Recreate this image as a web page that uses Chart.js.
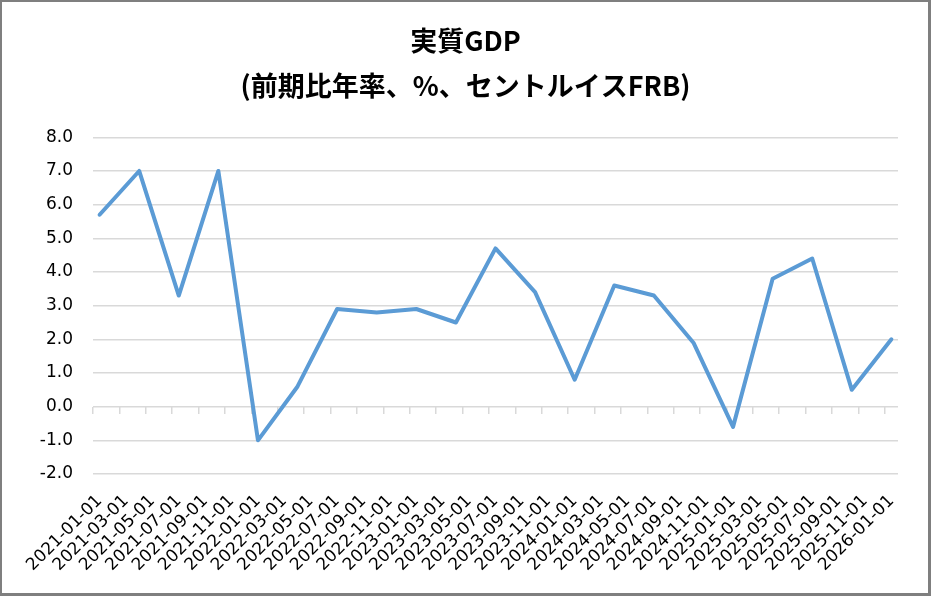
<!DOCTYPE html>
<html lang="ja">
<head>
<meta charset="utf-8">
<title>実質GDP</title>
<script src="https://cdn.jsdelivr.net/npm/chart.js@4.4.1/dist/chart.umd.min.js"></script>
<style>
    html, body { margin: 0; padding: 0; background: #fff; }
    #wrap {
        position: absolute; left: 0; top: 0;
        width: 931px; height: 596px;
        box-sizing: border-box;
        border-style: solid;
        border-color: #7f7f7f;
        border-width: 2px 3px 3px 2px;
        background: #fff;
    }
</style>
</head>
<body>
<div id="wrap"><canvas id="gdpChart"></canvas></div>
<script>
// quarterly real GDP, annualized q/q % (St. Louis Fed)
const dates = [
    '2021-01-01', '2021-04-01', '2021-07-01', '2021-10-01',
    '2022-01-01', '2022-04-01', '2022-07-01', '2022-10-01',
    '2023-01-01', '2023-04-01', '2023-07-01', '2023-10-01',
    '2024-01-01', '2024-04-01', '2024-07-01', '2024-10-01',
    '2025-01-01', '2025-04-01', '2025-07-01', '2025-10-01',
    '2026-01-01'
];
const gdpGrowth = [
    5.7, 7.0, 3.3, 7.0,
    -1.0, 0.6, 2.9, 2.8,
    2.9, 2.5, 4.7, 3.4,
    0.8, 3.6, 3.3, 1.9,
    -0.6, 3.8, 4.4, 0.5,
    2.0
];
const tickLabels = [
    '2021-01-01', '2021-03-01', '2021-05-01', '2021-07-01', '2021-09-01', '2021-11-01',
    '2022-01-01', '2022-03-01', '2022-05-01', '2022-07-01', '2022-09-01', '2022-11-01',
    '2023-01-01', '2023-03-01', '2023-05-01', '2023-07-01', '2023-09-01', '2023-11-01',
    '2024-01-01', '2024-03-01', '2024-05-01', '2024-07-01', '2024-09-01', '2024-11-01',
    '2025-01-01', '2025-03-01', '2025-05-01', '2025-07-01', '2025-09-01', '2025-11-01',
    '2026-01-01'
];
const yMin = -2;
const yMax = 8;
const yStep = 1;

const startYear = 2021;

function monthIndex(d) {
    const parts = d.split('-');
    return (parseInt(parts[0], 10) - startYear) * 12 + (parseInt(parts[1], 10) - 1);
}

const xMin = monthIndex(dates[0]) - 0.5;
const xMax = monthIndex(dates[dates.length - 1]) + 0.5;

const gridColor = '#d9d9d9';
const labelFont = { family: "'DejaVu Sans', Verdana, sans-serif", size: 17 };
const titleFont = { family: "'Noto Sans CJK JP', sans-serif", size: 27, weight: 'bold', lineHeight: 1.2 };

const ctx = document.getElementById('gdpChart').getContext('2d');

new Chart(ctx, {
    type: 'line',
    data: {
        datasets: [{
            label: '実質GDP',
            data: dates.map((d, i) => ({ x: monthIndex(d), y: gdpGrowth[i] })),
            borderColor: '#5b9bd5',
            borderWidth: 4,
            borderJoinStyle: 'round',
            borderCapStyle: 'round',
            pointRadius: 0,
            fill: false,
            tension: 0,
            xAxisID: 'x',
            yAxisID: 'y'
        }]
    },
    options: {
        responsive: true,
        maintainAspectRatio: false,
        animation: false,
        layout: { padding: { left: 31, right: 30, top: 0, bottom: 9 } },
        plugins: {
            legend: { display: false },
            tooltip: { enabled: false },
            title: {
                display: true,
                text: '実質GDP',
                color: '#000',
                font: titleFont,
                padding: { top: 23, bottom: 0 }
            },
            subtitle: {
                display: true,
                text: '(前期比年率、%、セントルイスFRB)',
                color: '#000',
                font: titleFont,
                padding: { top: 12, bottom: 35.5 }
            }
        },
        scales: {
            x: {
                type: 'linear',
                min: xMin,
                max: xMax,
                grid: { display: false },
                border: { display: false },
                afterBuildTicks: s => { s.ticks = tickLabels.map(d => ({ value: monthIndex(d) })); },
                afterFit: s => { s.height = 110; },
                ticks: {
                    autoSkip: false,
                    maxRotation: 45,
                    minRotation: 45,
                    padding: 9,
                    color: '#000',
                    font: labelFont,
                    callback: (v, i) => tickLabels[i]
                }
            },
            // tick marks sitting on the zero line
            xt: {
                type: 'linear',
                position: { y: 0 },
                min: xMin,
                max: xMax,
                border: { display: false },
                grid: {
                    drawOnChartArea: false,
                    drawTicks: true,
                    tickLength: 7,
                    color: gridColor,
                    lineWidth: 1.5
                },
                ticks: { display: false },
                afterBuildTicks: s => { s.ticks = tickLabels.map(d => ({ value: monthIndex(d) - 0.5 })); },
                afterFit: s => { s.height = 0; }
            },
            y: {
                min: yMin,
                max: yMax,
                border: { display: false },
                grid: { color: gridColor, lineWidth: 1.5, drawTicks: false },
                afterFit: s => { s.width = 60; },
                ticks: {
                    stepSize: yStep,
                    padding: 20,
                    color: '#000',
                    font: labelFont,
                    callback: v => v.toFixed(1)
                }
            }
        }
    }
});
</script>
</body>
</html>
